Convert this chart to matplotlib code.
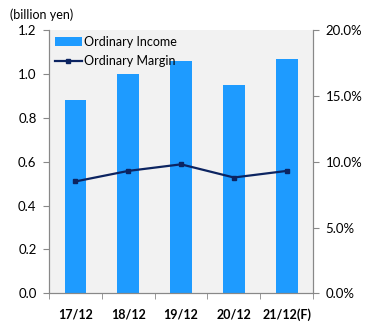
import matplotlib
matplotlib.use("Agg")
import matplotlib.pyplot as plt
from matplotlib.ticker import FixedLocator, FuncFormatter
import numpy as np

categories = ["17/12", "18/12", "19/12", "20/12", "21/12(F)"]
ordinary_income = [0.88, 1.00, 1.06, 0.95, 1.07]
ordinary_margin = [8.5, 9.3, 9.8, 8.8, 9.3]
left_ticks = [0.0, 0.2, 0.4, 0.6, 0.8, 1.0, 1.2]
right_ticks = [0.0, 5.0, 10.0, 15.0, 20.0]

plt.rcParams['font.family'] = ['Lato', 'DejaVu Sans']

fig = plt.figure(figsize=(3.8, 3.26), dpi=100)
ax = fig.add_axes([0.129, 0.100, 0.695, 0.808])
ax.set_facecolor("#F2F2F2")
x = np.arange(len(categories))
bar_color = "#1E9BFF"
line_color = "#0C2461"
bars = ax.bar(x, ordinary_income, width=0.41, color=bar_color, label="Ordinary Income", zorder=2)
ax.set_xlim(-0.5, len(categories) - 0.5)
ax.set_ylim(0, 1.2)
ax.set_yticks(left_ticks)
ax.yaxis.set_major_formatter(FuncFormatter(lambda v, p: f"{v:.1f}"))
ax.set_xticks(x)
ax.set_xticklabels(categories, fontweight="bold", fontsize=9)
ax.tick_params(axis="x", length=0, pad=11)
ax.xaxis.set_minor_locator(FixedLocator(np.arange(-0.5, len(categories), 1.0)))
ax.tick_params(axis="x", which="minor", length=4, color="#888888", direction="out")
ax.tick_params(axis="y", length=4, color="#888888", labelsize=9.5, pad=5)
for s in ["top"]:
    ax.spines[s].set_visible(False)
for s in ["left", "right", "bottom"]:
    ax.spines[s].set_color("#888888")

ax2 = ax.twinx()
line, = ax2.plot(x, ordinary_margin, color=line_color, marker="s", markersize=3.5, linewidth=1.6, label="Ordinary Margin", zorder=3)
ax2.set_ylim(0, 20)
ax2.set_yticks(right_ticks)
ax2.yaxis.set_major_formatter(FuncFormatter(lambda v, p: f"{v:.1f}%"))
ax2.tick_params(axis="y", length=4, color="#888888", labelsize=9.5, pad=5)
ax2.spines["top"].set_visible(False)
for s in ["left", "right", "bottom"]:
    ax2.spines[s].set_color("#888888")

leg = ax.legend([bars, line], ["Ordinary Income", "Ordinary Margin"], loc="upper left",
                bbox_to_anchor=(0.0, 1.0), frameon=False, fontsize=9,
                handlelength=2.1, handletextpad=0.2, borderaxespad=0.1, labelspacing=0.55)

fig.text(0.026, 0.955, "(billion yen)", fontsize=9, ha="left", va="center")

fig.savefig("out.png", dpi=100)
